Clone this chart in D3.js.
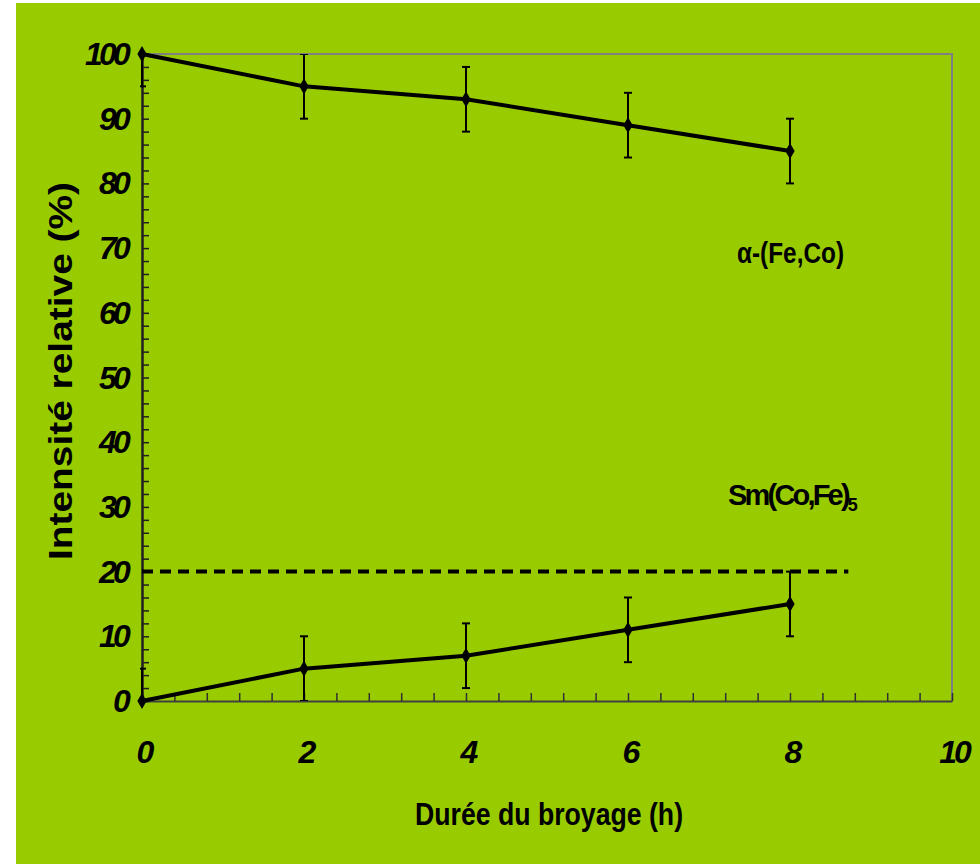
<!DOCTYPE html>
<html>
<head>
<meta charset="utf-8">
<script src="https://cdn.jsdelivr.net/npm/d3@7"></script>
<style>
  body { margin: 0; background: #ffffff; }
  svg { display: block; }
  text { font-family: "Liberation Sans", Arial, sans-serif; }
</style>
</head>
<body>
<div id="chart-area"></div>
<script>
// Data
const hours = [0, 2, 4, 6, 8];
const alphaFeCo = [100, 95, 93, 89, 85];
const smCoFe5 = [0, 5, 7, 11, 15];
const errAlpha = [5, 5, 5, 5, 5];
const errSm = [5, 5, 5, 5, 5];
const refLevel = 20;
const refEnd = 8.72;
const xTicks = [0, 2, 4, 6, 8, 10];
const yTicks = [0, 10, 20, 30, 40, 50, 60, 70, 80, 90, 100];

// Margin
const margin = { left: 142, right: 28, top: 54, bottom: 163 };
const W = 980, H = 864;
const width = W - margin.left - margin.right;
const height = H - margin.top - margin.bottom;

const svg = d3.select('#chart-area')
    .append('svg')
    .attr('width', W)
    .attr('height', H);

// green background
svg.append('rect')
    .attr('x', 16).attr('y', 3)
    .attr('width', W - 16).attr('height', H - 3)
    .attr('fill', '#99cc00');

const g = svg.append('g')
    .attr('transform', 'translate(' + margin.left + ', ' + margin.top + ')');

// Scales
const x = d3.scaleLinear().domain([0, 10]).range([0, width]);
const y = d3.scaleLinear().domain([0, 100]).range([height, 0]);

// clip for error bars
svg.append('clipPath').attr('id', 'plot-clip')
    .append('rect')
    .attr('x', -2).attr('y', 0)
    .attr('width', width + 4).attr('height', height);

// Plot frame (top / right)
g.append('path')
    .attr('d', 'M0,0H' + width + 'V' + height)
    .attr('fill', 'none')
    .attr('stroke', '#808080')
    .attr('stroke-width', 2);

// X Axis (minor ticks every 0.4 h, inside)
const xAxisCall = d3.axisBottom(x)
    .tickValues(d3.range(0, 10.001, 0.4))
    .tickSizeInner(-8)
    .tickSizeOuter(0)
    .tickFormat('');
const xAxis = g.append('g')
    .attr('class', 'x axis')
    .attr('transform', 'translate(0, ' + height + ')')
    .call(xAxisCall);
xAxis.select('.domain').attr('stroke', '#404040').attr('stroke-width', 2);
xAxis.selectAll('.tick line').attr('stroke', '#303030').attr('stroke-width', 1.5);

// Y Axis (minor ticks every 2 %, inside)
const yAxisCall = d3.axisLeft(y)
    .tickValues(d3.range(0, 100.001, 2))
    .tickSizeInner(-7)
    .tickSizeOuter(0)
    .tickFormat('');
const yAxis = g.append('g')
    .attr('class', 'y axis')
    .call(yAxisCall);
yAxis.select('.domain').attr('stroke', '#202020').attr('stroke-width', 2.5);
yAxis.selectAll('.tick line').attr('stroke', '#202020').attr('stroke-width', 1.5);

// Tick labels
g.selectAll('.xlab')
    .data(xTicks)
    .enter().append('text')
    .attr('x', (d) => x(d) + 2)
    .attr('y', height + 62)
    .attr('text-anchor', 'middle')
    .attr('font-size', '32px')
    .attr('font-weight', 'bold')
    .attr('font-style', 'italic')
    .attr('letter-spacing', '-3px')
    .text((d) => d);

g.selectAll('.ylab')
    .data(yTicks)
    .enter().append('text')
    .attr('x', -15)
    .attr('y', (d) => y(d) + 11)
    .attr('text-anchor', 'end')
    .attr('font-size', '32px')
    .attr('font-weight', 'bold')
    .attr('font-style', 'italic')
    .attr('letter-spacing', '-3.8px')
    .text((d) => d);

// Axis titles
svg.append('text')
    .attr('transform', 'translate(72, 371) rotate(-90)')
    .attr('text-anchor', 'middle')
    .attr('font-size', '34px')
    .attr('font-weight', 'bold')
    .attr('textLength', 378)
    .attr('lengthAdjust', 'spacingAndGlyphs')
    .text('Intensité relative (%)');

svg.append('text')
    .attr('x', 415)
    .attr('y', 825)
    .attr('font-size', '32px')
    .attr('font-weight', 'bold')
    .attr('textLength', 268)
    .attr('lengthAdjust', 'spacingAndGlyphs')
    .text('Durée du broyage (h)');

// Dashed reference line
g.append('line')
    .attr('x1', x(0)).attr('x2', x(refEnd))
    .attr('y1', y(refLevel)).attr('y2', y(refLevel))
    .attr('stroke', '#000')
    .attr('stroke-width', 4)
    .attr('stroke-dasharray', '11,7');

// Series
const series = [
    { values: alphaFeCo, err: errAlpha },
    { values: smCoFe5, err: errSm }
];

const line = d3.line()
    .x((d) => x(d[0]))
    .y((d) => y(d[1]));

series.forEach((s) => {
    const pts = hours.map((h, i) => [h, s.values[i], s.err[i]]);

    const eb = g.append('g').attr('clip-path', 'url(#plot-clip)');
    pts.forEach((p) => {
        const top = y(p[1] + p[2]);
        const bot = y(p[1] - p[2]);
        eb.append('line')
            .attr('x1', x(p[0])).attr('x2', x(p[0]))
            .attr('y1', top).attr('y2', bot)
            .attr('stroke', '#000').attr('stroke-width', 2);
        [top, bot].forEach((cy) => {
            eb.append('line')
                .attr('x1', x(p[0]) - 4).attr('x2', x(p[0]) + 4)
                .attr('y1', cy).attr('y2', cy)
                .attr('stroke', '#000').attr('stroke-width', 2);
        });
    });

    g.append('path')
        .datum(pts)
        .attr('d', line)
        .attr('fill', 'none')
        .attr('stroke', '#000')
        .attr('stroke-width', 4);

    g.selectAll(null)
        .data(pts)
        .enter().append('path')
        .attr('d', d3.symbol().type(d3.symbolDiamond).size(75))
        .attr('transform', (d) => 'translate(' + x(d[0]) + ',' + y(d[1]) + ')')
        .attr('fill', '#000');
});

// Series labels
svg.append('text')
    .attr('x', 737)
    .attr('y', 263)
    .attr('font-size', '29px')
    .attr('font-weight', 'bold')
    .attr('textLength', 107)
    .attr('lengthAdjust', 'spacingAndGlyphs')
    .text('α-(Fe,Co)');

const smLabel = svg.append('text')
    .attr('x', 728)
    .attr('y', 505)
    .attr('font-size', '29px')
    .attr('font-weight', 'bold')
    .attr('letter-spacing', '-2.8px');
smLabel.append('tspan').text('Sm(Co,Fe)');
smLabel.append('tspan')
    .attr('dy', 6)
    .attr('font-size', '18px')
    .text('5');
</script>
</body>
</html>
